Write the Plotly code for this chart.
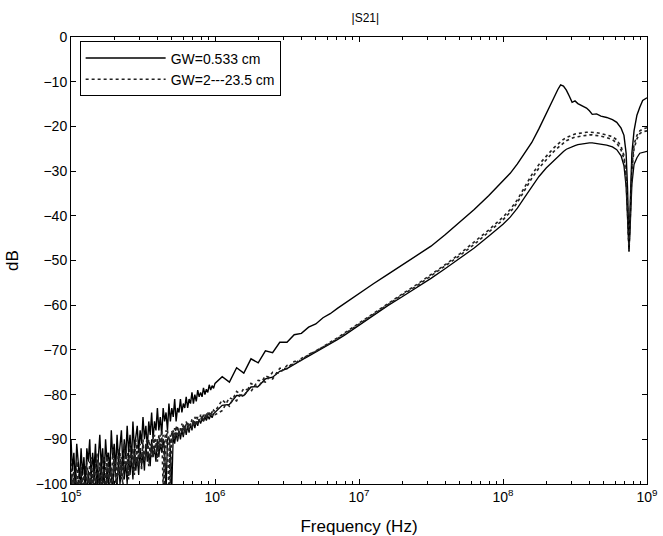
import plotly.graph_objects as go

# Frequency grid (Hz)
freq = [
    1.000e5, 1.023e5, 1.047e5, 1.072e5, 1.096e5, 1.122e5, 1.148e5, 1.175e5, 1.202e5, 1.230e5,
    1.259e5, 1.288e5, 1.318e5, 1.349e5, 1.380e5, 1.413e5, 1.445e5, 1.479e5, 1.514e5, 1.549e5,
    1.585e5, 1.622e5, 1.660e5, 1.698e5, 1.738e5, 1.778e5, 1.820e5, 1.862e5, 1.905e5, 1.950e5,
    1.995e5, 2.042e5, 2.089e5, 2.138e5, 2.188e5, 2.239e5, 2.291e5, 2.344e5, 2.399e5, 2.455e5,
    2.512e5, 2.570e5, 2.630e5, 2.692e5, 2.754e5, 2.818e5, 2.884e5, 2.951e5, 3.020e5, 3.090e5,
    3.162e5, 3.236e5, 3.311e5, 3.388e5, 3.467e5, 3.548e5, 3.631e5, 3.715e5, 3.802e5, 3.890e5,
    3.981e5, 4.074e5, 4.169e5, 4.266e5, 4.365e5, 4.467e5, 4.571e5, 4.677e5, 4.786e5, 4.898e5,
    5.012e5, 5.129e5, 5.248e5, 5.370e5, 5.495e5, 5.623e5, 5.754e5, 5.888e5, 6.026e5, 6.166e5,
    6.310e5, 6.457e5, 6.607e5, 6.761e5, 6.918e5, 7.079e5, 7.244e5, 7.413e5, 7.586e5, 7.762e5,
    7.943e5, 8.128e5, 8.318e5, 8.511e5, 8.710e5, 8.913e5, 9.120e5, 9.333e5, 9.550e5, 9.772e5,
    1.000e6,
    1.122e6, 1.259e6, 1.413e6, 1.585e6, 1.778e6, 1.995e6, 2.239e6, 2.512e6, 2.818e6, 3.162e6,
    3.548e6, 3.981e6, 4.467e6, 5.012e6, 5.623e6, 6.310e6, 7.079e6, 7.943e6, 8.913e6, 1.000e7,
    1.259e7, 1.585e7, 1.995e7, 2.512e7, 3.162e7, 3.981e7, 5.012e7, 6.310e7, 7.943e7, 1.000e8,
    1.122e8, 1.259e8, 1.413e8, 1.585e8, 1.778e8, 1.995e8, 2.239e8, 2.399e8, 2.512e8, 2.630e8,
    2.754e8, 2.884e8, 3.020e8, 3.162e8, 3.311e8, 3.548e8, 3.802e8, 3.981e8, 4.169e8, 4.467e8,
    4.786e8, 5.248e8, 5.754e8, 6.166e8, 6.607e8, 6.918e8, 7.161e8, 7.328e8, 7.499e8, 7.674e8,
    7.852e8, 8.128e8, 8.511e8, 8.913e8, 9.333e8, 1.000e9,
]

# GW = 0.533 cm (dB)
s21_gw0533 = [
    -90, -97, -93, -100, -91, -96, -99, -92, -98, -94,
    -101, -92, -95, -90, -99, -93, -97, -91, -100, -94,
    -89, -96, -92, -99, -90, -95, -93, -98, -88, -94,
    -91, -97, -89, -95, -92, -88, -96, -90, -94, -87,
    -93, -89, -95, -86, -92, -90, -87, -93, -88, -91,
    -85, -90, -87, -92, -86, -89, -84, -90, -86, -88,
    -83, -88, -85, -89, -83, -86, -84, -88, -82, -86,
    -83, -85, -81, -86, -83, -84, -81, -84, -82, -83,
    -80.5, -83, -81, -82, -79.5, -82, -80, -81.5, -79, -80.5,
    -79.5, -80.5, -78.5, -80, -78.8, -79.5, -77.8, -79, -78, -78.6,
    -77.5,
    -76.0, -77.2, -74.0, -75.2, -72.0, -72.9, -70.2, -70.6, -68.3, -68.3,
    -66.6, -66.3, -64.9, -64.2, -62.8, -61.9, -60.7, -59.6, -58.5, -57.3,
    -55.2, -53.1, -51.0, -49.0, -46.8, -44.2, -41.5, -38.6, -35.5, -32.3,
    -30.5, -28.4, -26.1, -23.6, -20.5, -17.0, -13.8, -11.8, -10.7, -11.0,
    -11.9, -13.2, -14.6, -14.3, -14.9, -15.4, -15.9, -16.5, -17.3, -17.2,
    -17.7, -18.0, -18.5, -19.1, -20.4, -22.0, -26.0, -34.0, -47.5, -36.0,
    -26.0, -21.0, -17.5, -15.7, -14.2, -13.6,
]

# GW = 2 -- 23.5 cm (three curves, dB)
s21_gw_a = [
    -94, -102, -97, -104, -95, -100, -103, -96, -101, -98,
    -104, -95, -99, -102, -94, -100, -97, -103, -93, -99,
    -96, -102, -94, -98, -101, -93, -99, -96, -102, -92,
    -97, -95, -100, -92, -98, -94, -101, -91, -96, -93,
    -99, -91, -95, -92, -98, -90, -96, -93, -91, -97,
    -90, -95, -92, -89, -96, -91, -94, -89, -93, -90,
    -95, -89, -92, -88, -101, -90, -88, -92, -102, -89,
    -91, -88, -90, -87, -90, -88, -89, -86.5, -89, -87,
    -88.5, -86, -88, -86.5, -87.5, -85.5, -87, -85, -86.5, -85.5,
    -86, -84.5, -86, -84.5, -85.5, -84, -85, -83.8, -84.6, -83.5,
    -83.8,
    -81.2, -82.6, -79.3, -80.5, -77.5, -78.4, -75.8, -76.5, -74.1, -74.2,
    -72.6, -72.3, -71.0, -70.3, -69.2, -68.3, -67.3, -66.2, -65.1, -63.9,
    -61.7, -59.6, -57.5, -55.4, -53.2, -50.9, -48.5, -45.9, -43.2, -40.3,
    -38.6, -36.4, -33.6, -30.8, -28.5, -26.6, -24.9, -24.0, -23.4, -22.9,
    -22.5, -22.2, -21.9, -21.7, -21.6, -21.4, -21.3, -21.3, -21.3, -21.4,
    -21.6, -21.9, -22.3, -23.0, -24.5, -26.5, -31.0, -38.0, -47.5, -38.0,
    -29.0, -24.0, -22.0, -21.0, -20.6, -20.3,
]

s21_gw_b = [
    -101, -96, -103, -98, -102, -95, -100, -104, -97, -102,
    -96, -101, -103, -95, -100, -97, -102, -94, -99, -101,
    -95, -98, -103, -94, -97, -100, -95, -101, -96, -99,
    -93, -100, -96, -98, -93, -99, -95, -97, -92, -98,
    -94, -96, -92, -97, -93, -95, -91, -96, -93, -94,
    -91, -95, -92, -94, -90, -93, -91, -94, -89, -92,
    -90, -93, -89, -91, -89, -101, -90, -88, -91, -100,
    -88, -90, -87.5, -89.5, -87, -89, -87.5, -88.5, -86.5, -88.5,
    -86, -87.5, -86.5, -87, -85.5, -87, -85, -86.5, -85, -86,
    -84.5, -85.8, -84.5, -85.2, -84, -85, -84.2, -84.6, -83.8, -84.4,
    -84.5,
    -83.6, -80.7, -81.4, -78.6, -79.3, -76.8, -77.2, -75.0, -75.2, -73.5,
    -73.2, -71.9, -71.2, -70.2, -69.4, -68.5, -67.5, -66.4, -65.3, -64.1,
    -61.9, -59.8, -57.7, -55.7, -53.5, -51.2, -48.9, -46.4, -43.7, -40.9,
    -39.2, -37.0, -34.3, -31.6, -29.3, -27.4, -25.7, -24.8, -24.2, -23.7,
    -23.2, -22.9, -22.6, -22.4, -22.3, -22.1, -22.0, -21.9, -21.9, -22.0,
    -22.2, -22.5, -23.0, -23.7, -25.3, -27.3, -32.0, -39.0, -48.0, -39.0,
    -30.0, -25.0, -22.8, -21.6, -21.2, -21.0,
]

s21_gw_c = [
    -98, -103, -100, -96, -104, -99, -102, -97, -103, -100,
    -98, -104, -97, -101, -99, -103, -96, -100, -102, -97,
    -101, -95, -100, -98, -103, -96, -101, -94, -99, -102,
    -95, -98, -101, -94, -100, -97, -93, -99, -95, -100,
    -93, -98, -94, -99, -92, -97, -94, -98, -92, -96,
    -93, -97, -91, -95, -93, -96, -90, -94, -92, -95,
    -90, -94, -91, -93, -90, -92, -102, -90, -89.5, -92,
    -101, -89, -91, -88.5, -90.5, -88, -90, -88, -89.5, -87,
    -89, -87, -88.5, -86.5, -88, -86, -87.5, -86, -87, -85.5,
    -86.5, -85.5, -86, -85, -85.8, -84.8, -85.5, -84.5, -85.2, -84.3,
    -84.0,
    -82.4, -82.2, -80.2, -80.2, -78.3, -78.2, -76.5, -76.1, -74.8, -74.2,
    -73.2, -72.3, -71.4, -70.5, -69.6, -68.7, -67.7, -66.7, -65.6, -64.4,
    -62.2, -60.1, -58.1, -56.1, -54.0, -51.8, -49.6, -47.2, -44.6, -41.9,
    -40.3, -38.3, -35.9, -33.4, -31.2, -29.3, -27.7, -26.8, -26.1, -25.6,
    -25.1, -24.8, -24.5, -24.3, -24.1, -23.9, -23.8, -23.7, -23.7, -23.8,
    -24.0, -24.2, -24.6, -25.2, -26.6, -28.8, -33.5, -40.0, -48.0, -41.0,
    -33.0, -28.5, -27.0, -26.0, -25.8, -25.6,
]

x_tickvals = [1e5, 1e6, 1e7, 1e8, 1e9]
x_ticktext = ["10<sup>5</sup>", "10<sup>6</sup>", "10<sup>7</sup>", "10<sup>8</sup>", "10<sup>9</sup>"]
y_tickvals = [0, -10, -20, -30, -40, -50, -60, -70, -80, -90, -100]
minor_x = [m * d for d in [1e5, 1e6, 1e7, 1e8] for m in range(2, 10)]

FONT = "Liberation Sans, Arial, Helvetica, sans-serif"

fig = go.Figure()
fig.add_trace(go.Scatter(x=freq, y=s21_gw_c, mode="lines", name="GW=2---23.5 cm",
                         legendgroup="b", showlegend=False,
                         line=dict(color="black", width=1.3)))
fig.add_trace(go.Scatter(x=freq, y=s21_gw_b, mode="lines", name="GW=2---23.5 cm",
                         legendgroup="b", showlegend=False,
                         line=dict(color="#222222", width=1.6, dash="dot")))
fig.add_trace(go.Scatter(x=freq, y=s21_gw0533, mode="lines", name="GW=0.533 cm",
                         legendgroup="a", showlegend=True,
                         line=dict(color="black", width=1.4)))
fig.add_trace(go.Scatter(x=freq, y=s21_gw_a, mode="lines", name="GW=2---23.5 cm",
                         legendgroup="b", showlegend=True,
                         line=dict(color="#222222", width=1.6, dash="dot")))

fig.update_layout(
    width=663, height=536,
    margin=dict(l=71, r=16, t=37, b=52),
    paper_bgcolor="white", plot_bgcolor="white",
    font=dict(family=FONT, size=14, color="black"),
    title=dict(text="|S21|", x=0.551, xanchor="center", y=0.966, yanchor="middle",
               font=dict(size=12)),
    showlegend=True,
    legend=dict(x=0.015, y=0.99, xanchor="left", yanchor="top",
                bgcolor="white", bordercolor="black", borderwidth=1,
                font=dict(size=14), tracegroupgap=0, traceorder="normal",
                itemwidth=80),
)
fig.update_xaxes(
    type="log", range=[5, 9], automargin=False,
    tickvals=x_tickvals, ticktext=x_ticktext,
    ticks="inside", ticklen=5, tickcolor="black",
    showline=True, linecolor="black", linewidth=1, mirror="ticks",
    showgrid=False, zeroline=False,
    minor=dict(tickvals=minor_x, ticks="inside", ticklen=3, tickcolor="black", showgrid=False),
    title=dict(text="Frequency (Hz)", standoff=16),
)
fig.update_yaxes(
    range=[-100, 0], automargin=False,
    tickvals=y_tickvals,
    ticks="inside", ticklen=5, tickcolor="black",
    showline=True, linecolor="black", linewidth=1, mirror="ticks",
    showgrid=False, zeroline=False,
    title=dict(text="dB", standoff=12),
)

fig.write_html(
    "out.html",
    config={"displayModeBar": False},
    post_script="document.body.style.margin='0';document.body.style.overflow='hidden';",
)
